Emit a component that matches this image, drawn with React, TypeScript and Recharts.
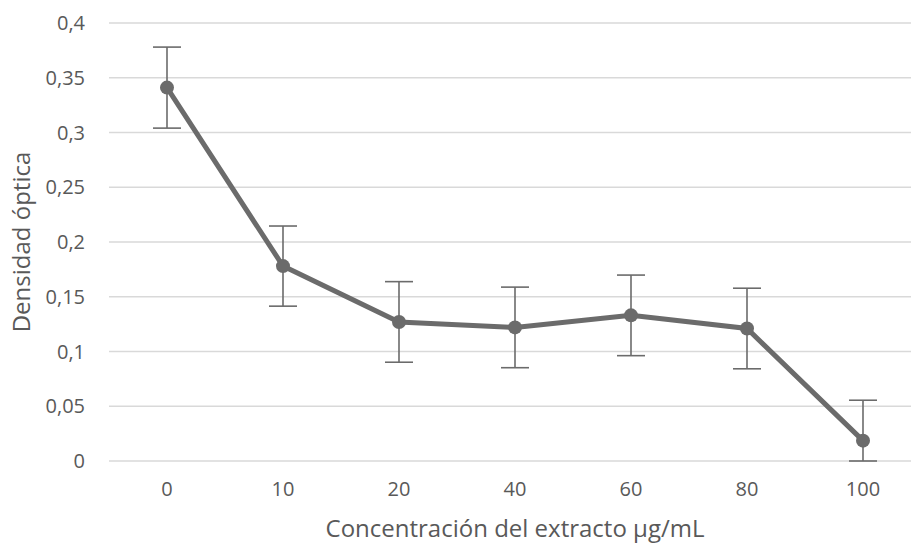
import React from 'react';
import {
  LineChart,
  Line,
  XAxis,
  YAxis,
  CartesianGrid,
  ErrorBar,
} from 'recharts';

const concentrations = ['0', '10', '20', '40', '60', '80', '100'];
const densidad = [0.341, 0.178, 0.127, 0.122, 0.133, 0.121, 0.0186];
// [below, above]; the last bar is cut at the axis, as in the original
const errores: [number, number][] = [
  [0.037, 0.037],
  [0.0366, 0.0366],
  [0.0368, 0.0368],
  [0.0368, 0.0368],
  [0.0368, 0.0368],
  [0.0368, 0.0368],
  [0.0186, 0.0369],
];
const yTicks = [0, 0.05, 0.1, 0.15, 0.2, 0.25, 0.3, 0.35, 0.4];

const data = concentrations.map((c, i) => ({
  conc: c,
  valor: densidad[i],
  err: errores[i],
}));

const font = '"Open Sans", sans-serif';
const textColor = '#595959';
const lineColor = '#6b6b6b';

const formatTick = (v: number) => String(v).replace('.', ',');

export default function App() {
  return (
    <div style={{ position: 'absolute', left: 0, top: 0, width: 911, height: 543, overflow: 'hidden', background: '#fff' }}>
      <LineChart
        width={921}
        height={543}
        data={data}
        margin={{ top: 23, right: 0, bottom: 40, left: 0 }}
      >
        <CartesianGrid vertical={false} stroke="#d9d9d9" strokeWidth={1.5} />
        <XAxis
          dataKey="conc"
          padding={{ left: 58, right: 58 }}
          axisLine={false}
          tickLine={false}
          height={42}
          tickMargin={15}
          tick={{ fill: textColor, fontSize: 20, fontFamily: font }}
          label={{
            value: 'Concentración del extracto µg/mL',
            position: 'insideBottom',
            offset: -34,
            fill: textColor,
            fontSize: 24,
            fontFamily: font,
          }}
        />
        <YAxis
          domain={[0, 0.4]}
          ticks={yTicks}
          width={109}
          axisLine={false}
          tickLine={false}
          tickMargin={18}
          tickFormatter={formatTick}
          tick={{ fill: textColor, fontSize: 20, fontFamily: font }}
          label={{
            value: 'Densidad óptica',
            angle: -90,
            position: 'insideLeft',
            offset: 21,
            fill: textColor,
            fontSize: 24,
            fontFamily: font,
            style: { textAnchor: 'middle' },
          }}
        />
        <Line
          type="linear"
          dataKey="valor"
          stroke={lineColor}
          strokeWidth={5}
          dot={{ r: 7, fill: lineColor, stroke: lineColor, strokeWidth: 0 }}
          activeDot={false}
          isAnimationActive={false}
        >
          <ErrorBar dataKey="err" width={14} stroke={lineColor} strokeWidth={1.6} direction="y" />
        </Line>
      </LineChart>
    </div>
  );
}
